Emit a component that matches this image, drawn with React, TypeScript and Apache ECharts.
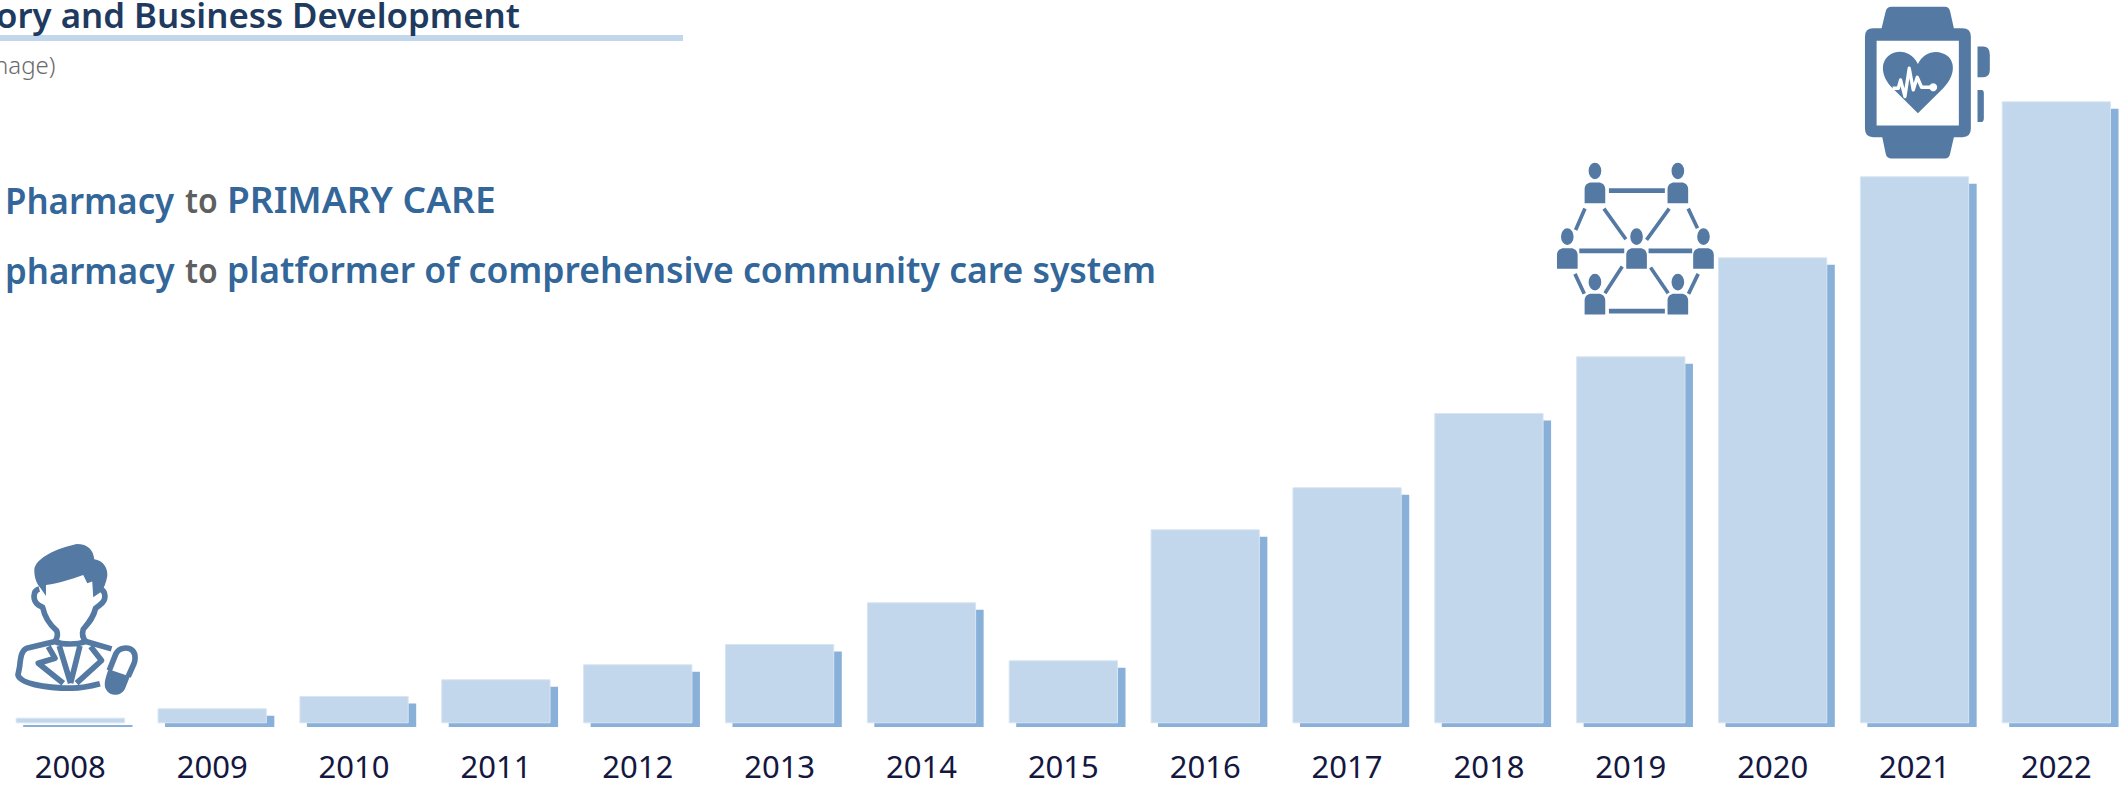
import React, { useEffect, useRef } from "react";
import * as echarts from "echarts";

// Yearly bar heights on a hidden scale whose units are arbitrary
const years = ["2008","2009","2010","2011","2012","2013","2014","2015","2016","2017","2018","2019","2020","2021","2022"];
const barValues = [5.6, 15, 27.3, 44, 59, 79.3, 121, 63, 194, 236, 310.3, 367, 466, 547, 622];

const TEXT_FONT = '"Noto Sans", "Open Sans", sans-serif';
const ICON = "#547AA3";
const FRONT = "#C2D7EC";
const SHADOW = "#88B0D8";

const personAt = (cx: number, top: number) =>
  `M${cx - 19} ${top + 25}A19 25 0 1 1 ${cx + 19} ${top + 25}A19 25 0 1 1 ${cx - 19} ${top + 25}Z` +
  `M${cx - 31} ${top + 122}V${top + 80}C${cx - 31} ${top + 66} ${cx - 20} ${top + 60} ${cx - 12} ${top + 60}H${cx + 12}C${cx + 20} ${top + 60} ${cx + 31} ${top + 66} ${cx + 31} ${top + 80}V${top + 122}Z`;

const networkPeople = [[195,68],[444,68],[112,265],[320,265],[521,265],[195,402],[444,402]]
  .map(([c, t]) => personAt(c, t)).join("");

echarts.graphic.registerShape("doctorHair", echarts.graphic.extendPath(
  "M103 150C105 115 170 85 230 72C265 72 280 90 283 118C310 122 325 145 322 170C318 190 312 205 305 215L280 232L277 185L262 190L250 165C210 180 165 192 138 195L138 228L122 205C108 190 103 170 103 150Z", {}));
echarts.graphic.registerShape("doctorOutline", echarts.graphic.extendPath(
  "M118 207C98 212 97 242 115 255L128 262C135 295 150 315 170 332C175 345 172 355 165 365L80 385C65 392 62 410 59 440L54 465C60 490 130 505 215 505C245 505 270 500 300 492" +
  "M300 207C318 212 322 240 300 255L287 265C280 295 265 310 250 328C245 345 248 355 258 365L335 387M165 365C190 375 230 375 258 365" +
  "M145 380L165 415L115 430L190 490M178 378L212 490M240 378L212 490M272 380L305 422L230 490" +
  "M328 452L348 402C358 382 385 380 398 392C410 405 405 425 402 432L385 470", {}));
echarts.graphic.registerShape("doctorPill", echarts.graphic.extendPath(
  "M326 448L390 470L376 505C365 530 330 532 318 508C310 492 318 470 326 448Z", {}));
echarts.graphic.registerShape("networkPeople", echarts.graphic.extendPath(networkPeople, {}));
echarts.graphic.registerShape("networkRungs", echarts.graphic.extendPath(
  "M237 152H405M237 514H405M148 333H283M356 333H487", {}));
echarts.graphic.registerShape("networkSpokes", echarts.graphic.extendPath(
  "M165 206L137 270M222 206L288 298M418 206L350 300M475 206L503 265M135 402L163 462M277 380L225 460M362 383L415 460M505 402L476 462", {}));
echarts.graphic.registerShape("watchCase", echarts.graphic.extendPath(
  "M185 85L197 35Q200 20 215 20H375Q388 20 391 35L402 85H428Q453 85 453 110V387Q453 412 428 412H402L391 460Q388 476 375 476H215Q200 476 197 460L187 412H160Q135 412 135 387V110Q135 85 160 85Z" +
  "M473 140H490Q510 140 510 165V210Q510 232 490 232H473ZM473 270H485Q492 270 492 280V355Q492 366 485 366H473Z", {}));
echarts.graphic.registerShape("watchHeart", echarts.graphic.extendPath(
  "M294 340L215 262C185 230 180 190 205 168C235 145 275 155 294 192C312 155 355 145 385 170C410 195 400 235 370 265Z", {}));
echarts.graphic.registerShape("watchPulse", echarts.graphic.extendPath(
  "M218 265H235L242 240L255 290L268 205L280 270L292 232L305 262H340", {}));

// y is the text baseline; the library positions text from the top of its line box
const label = (text: string, x: number, y: number, size: number, fill: string, weight: number, scaleX = 1) => ({
  type: "text", x, y: y - size * 0.88, scaleX,
  style: { text, fill, font: `${weight} ${size}px ${TEXT_FONT}` },
});

const doctorIcon = {
  type: "group", x: 0, y: 520, scaleX: 1 / 3, scaleY: 1 / 3,
  children: [
    { type: "doctorOutline", style: { fill: "none", stroke: ICON, lineWidth: 17, lineJoin: "round" } },
    { type: "doctorHair", style: { fill: ICON } },
    { type: "doctorPill", style: { fill: ICON } },
  ],
};
const networkIcon = {
  type: "group", x: 1530, y: 140, scaleX: 1 / 3, scaleY: 1 / 3,
  children: [
    { type: "networkRungs", style: { fill: "none", stroke: ICON, lineWidth: 14 } },
    { type: "networkSpokes", style: { fill: "none", stroke: ICON, lineWidth: 11 } },
    { type: "networkPeople", style: { fill: ICON } },
  ],
};
const watchIcon = {
  type: "group", x: 1820, y: 0, scaleX: 1 / 3, scaleY: 1 / 3,
  children: [
    { type: "watchCase", style: { fill: ICON } },
    { type: "rect", shape: { x: 170, y: 122, width: 247, height: 255 }, style: { fill: "#fff" } },
    { type: "watchHeart", style: { fill: ICON } },
    { type: "watchPulse", style: { fill: "none", stroke: "#fff", lineWidth: 10, lineJoin: "round" } },
    { type: "circle", shape: { cx: 340, cy: 262, r: 12 }, style: { fill: "#fff" } },
  ],
};

export default function App() {
  const ref = useRef<HTMLDivElement>(null);
  useEffect(() => {
    const chart = echarts.init(ref.current!, undefined, { renderer: "svg" });
    chart.setOption({
      animation: false,
      backgroundColor: "#fff",
      grid: [
        { left: -0.6, width: 2127.9, top: 23.3, height: 700, outerBoundsMode: "none" },
        { left: 6.9, width: 2127.9, top: 27, height: 700, outerBoundsMode: "none" },
      ],
      xAxis: [
        {
          type: "category", gridIndex: 0, data: years,
          axisLine: { show: false }, axisTick: { show: false },
          axisLabel: { color: "#14173F", fontFamily: TEXT_FONT, fontSize: 31, margin: 27.5, interval: 0 },
        },
        { type: "category", gridIndex: 1, data: years, show: false },
      ],
      yAxis: [
        { type: "value", gridIndex: 0, min: 0, max: 700, show: false },
        { type: "value", gridIndex: 1, min: 3.7, max: 703.7, show: false },
      ],
      series: [
        { type: "bar", name: "shadow", xAxisIndex: 1, yAxisIndex: 1, data: barValues, barWidth: 109.3, z: 1, itemStyle: { color: SHADOW } },
        { type: "bar", name: "bars", xAxisIndex: 0, yAxisIndex: 0, data: barValues, barWidth: 109.3, z: 2, itemStyle: { color: FRONT, borderColor: "#D8E5F2", borderWidth: 1 } },
      ],
      graphic: { elements: [
        { type: "rect", shape: { x: 0, y: 35, width: 683, height: 6 }, style: { fill: FRONT } },
        label("ory and Business Development", -4, 28, 34.8, "#1F3A5F", 600),
        label("nage)", -6, 74, 24, "#6A6A6A", 300),
        label("Pharmacy", 5, 213, 36, "#336699", 600, 0.966),
        label("to", 185, 213, 34, "#5F5F5F", 600, 0.94),
        label("PRIMARY CARE", 227, 213, 36, "#336699", 600, 1.03),
        label("pharmacy", 5, 283, 36, "#336699", 600, 0.966),
        label("to", 185, 283, 34, "#5F5F5F", 600, 0.94),
        label("platformer of comprehensive community care system", 227, 283, 36, "#336699", 600, 0.986),
        doctorIcon, networkIcon, watchIcon,
      ] },
    });
    return () => chart.dispose();
  }, []);
  return <div ref={ref} style={{ position: "absolute", left: 0, top: 0, width: 2127, height: 787 }} />;
}
